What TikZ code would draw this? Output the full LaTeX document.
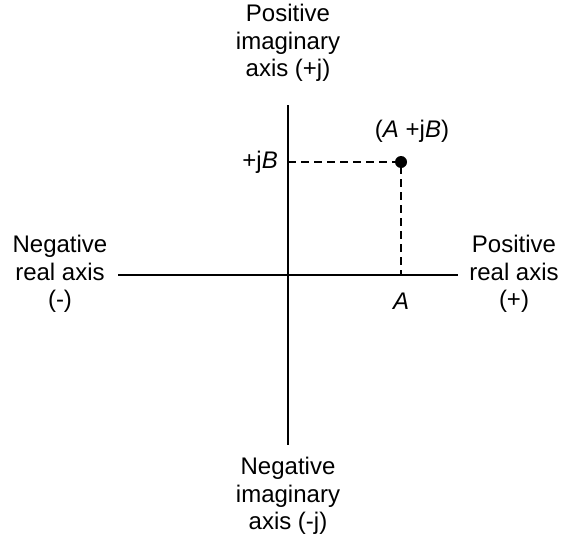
\documentclass[tikz,border=0pt]{standalone}
\usepackage{fontspec}
\setmainfont{Liberation Sans}
\usetikzlibrary{positioning}
\usetikzlibrary{calc}

\tikzset{
  axislabel/.style={align=center, font=\fontsize{24}{27.5}\selectfont, inner sep=0pt},
  ptlabel/.style={font=\fontsize{24}{27.5}\selectfont, inner sep=0pt},
  axisline/.style={line width=2.2pt},
  guide/.style={line width=1.3pt, dash pattern=on 8pt off 5pt}
}

\begin{document}
\begin{tikzpicture}[x=1pt, y=-1pt]
            \useasboundingbox (0,0) rectangle (567,543);
            % 坐标轴端点
            \coordinate (realL) at (118,275);
            \coordinate (realR) at (458,275);
            \coordinate (imagT) at (288,105);
            \coordinate (imagB) at (288,445);
            
            % 坐标轴
            \draw[axisline] (realL) -- (realR);
            \draw[axisline] (imagT) -- (imagB);
            
            % 坐标轴标签
            \node[axislabel] (imagpos) at (288,43) {Positive\\imaginary\\axis (+j)};
            \node[axislabel] (imagneg) at (288,496) {Negative\\imaginary\\axis (-j)};
            \node[axislabel] (realneg) at (60,274) {Negative\\real axis\\(-)};
            \node[axislabel] (realpos) at (514,274) {Positive\\real axis\\(+)};
            
            % 点 A+jB 及虚线
            \coordinate (PB) at (288,162);
            \coordinate (PA) at (401,275);
            \fill (401,162) circle (6pt) coordinate (P);
            \draw[guide] (PB) -- (P) -- (PA);
            
            % 点标签
            \node[ptlabel, left=10pt of PB] (lblB) {+j\textit{B}};
            \node[ptlabel] (lblP) at (412,131) {(\textit{A} +j\textit{B})};
            \node[ptlabel] (lblA) at (401,301) {\textit{A}};
        \end{tikzpicture}
\end{document}
